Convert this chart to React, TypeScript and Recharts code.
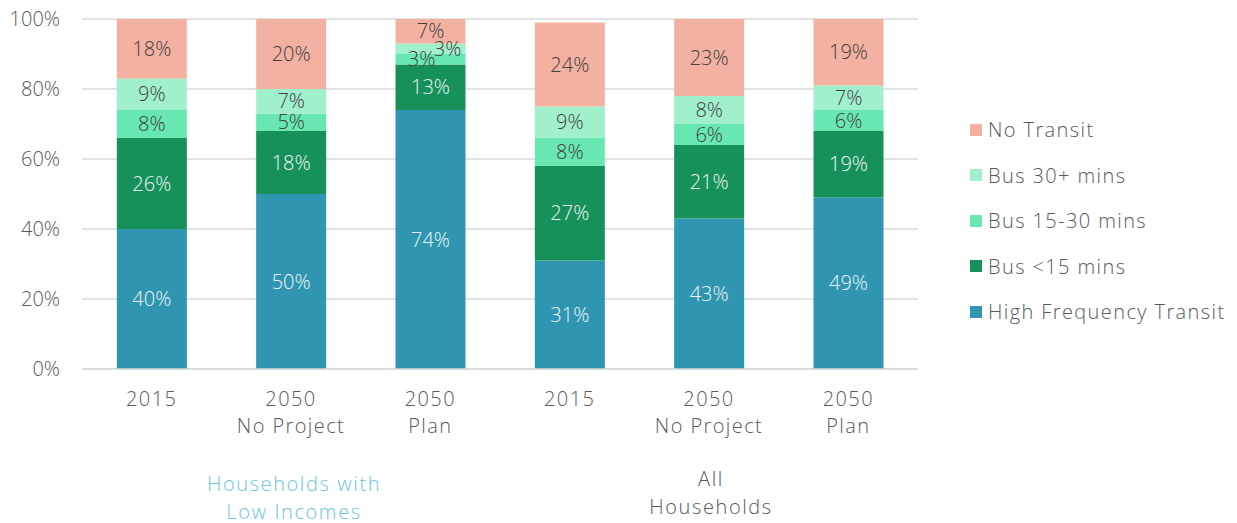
import { Bar, BarChart, CartesianGrid, LabelList, XAxis, YAxis } from "recharts";

const categories = ["2015", "2050\nNo Project", "2050\nPlan", "2015", "2050\nNo Project", "2050\nPlan"];
const highFrequency = [40, 50, 74, 31, 43, 49];
const busUnder15 = [26, 18, 13, 27, 21, 19];
const bus15to30 = [8, 5, 3, 8, 6, 6];
const bus30plus = [9, 7, 3, 9, 8, 7];
const noTransit = [18, 20, 7, 24, 23, 19];
const yTicks = [0, 20, 40, 60, 80, 100];
const groupLabels = ["Households with\nLow Incomes", "All\nHouseholds"];

const FONT = "'Open Sans', Lato, sans-serif";
const GREY = "#595959";

const series = [
  { key: "hft", name: "High Frequency Transit", color: "#3095b0", text: "#eef6f8" },
  { key: "b15", name: "Bus <15 mins", color: "#17915a", text: "#eef6f0" },
  { key: "b1530", name: "Bus 15-30 mins", color: "#68e8b0", text: "#404040" },
  { key: "b30", name: "Bus 30+ mins", color: "#a0f0cc", text: "#404040" },
  { key: "none", name: "No Transit", color: "#f3b1a2", text: "#404040" },
];

const data = categories.map((label, i) => ({
  label,
  hft: highFrequency[i],
  b15: busUnder15[i],
  b1530: bus15to30[i],
  b30: bus30plus[i],
  none: noTransit[i],
}));

function XTick({ x, y, payload }: any) {
  const lines = String(payload.value).split("\n");
  return (
    <text
      x={x}
      y={y}
      textAnchor="middle"
      fill={GREY}
      fontSize={20}
      fontFamily={FONT}
      fontWeight={300}
      letterSpacing={1.4}
    >
      {lines.map((l, i) => (
        <tspan key={i} x={x} dy={i === 0 ? 29 : 27}>
          {l}
        </tspan>
      ))}
    </text>
  );
}

function makeLabel(seriesKey: string, color: string) {
  return (props: any) => {
    const { x, y, width, height, value } = props;
    if (value == null) return null;
    // small stacked slices get nudged sideways so they don't collide
    let dx = 0;
    if (value <= 3 && seriesKey === "b1530") dx = -9;
    if (value <= 3 && seriesKey === "b30") dx = 17;
    return (
      <text
        x={x + width / 2 + dx}
        y={y + height / 2}
        dy="0.36em"
        textAnchor="middle"
        fill={color}
        fontSize={20}
        fontFamily={FONT}
        fontWeight={300}
      >
        {value}%
      </text>
    );
  };
}

export default function App() {
  return (
    <div style={{ position: "absolute", left: 0, top: 0, width: 1237, height: 523, background: "#fff" }}>
      <BarChart width={1237} height={523} data={data} margin={{ top: 19, right: 319, bottom: 0, left: 0 }} barCategoryGap="25%">
        <CartesianGrid vertical={false} stroke="#d9d9d9" strokeWidth={1.5} />
        <XAxis
          dataKey="label"
          height={154}
          axisLine={{ stroke: "#d9d9d9", strokeWidth: 1.5 }}
          tickLine={false}
          tick={<XTick />}
          interval={0}
        />
        <YAxis
          width={82}
          domain={[0, 100]}
          ticks={yTicks}
          interval={0}
          allowDataOverflow
          axisLine={false}
          tickLine={false}
          tickMargin={16}
          tickFormatter={(v) => `${v}%`}
          tick={{ fill: GREY, fontSize: 20, fontFamily: FONT, fontWeight: 300 }}
        />
        {series.map((s) => (
          <Bar key={s.key} dataKey={s.key} name={s.name} stackId="a" fill={s.color} isAnimationActive={false}>
            <LabelList dataKey={s.key} content={makeLabel(s.key, s.text)} />
          </Bar>
        ))}
      </BarChart>
      <div
        style={{
          position: "absolute",
          left: 970,
          top: 107,
          fontFamily: FONT,
          fontWeight: 300,
          fontSize: 20,
          letterSpacing: 1.4,
          color: GREY,
          whiteSpace: "nowrap",
        }}
      >
        {[...series].reverse().map((s) => (
          <div key={s.key} style={{ display: "flex", alignItems: "center", height: 45.5 }}>
            <span style={{ width: 12, height: 12, background: s.color, marginRight: 6 }} />
            <span>{s.name}</span>
          </div>
        ))}
      </div>
      {groupLabels.map((g, i) => (
        <div
          key={g}
          style={{
            position: "absolute",
            left: i === 0 ? 194 : 611,
            top: i === 0 ? 470 : 465,
            width: 200,
            textAlign: "center",
            whiteSpace: "pre-line",
            fontFamily: FONT,
            fontWeight: 300,
            fontSize: 20,
            letterSpacing: 1.6,
            lineHeight: "28px",
            color: i === 0 ? "#6cc4dc" : GREY,
          }}
        >
          {g}
        </div>
      ))}
    </div>
  );
}
